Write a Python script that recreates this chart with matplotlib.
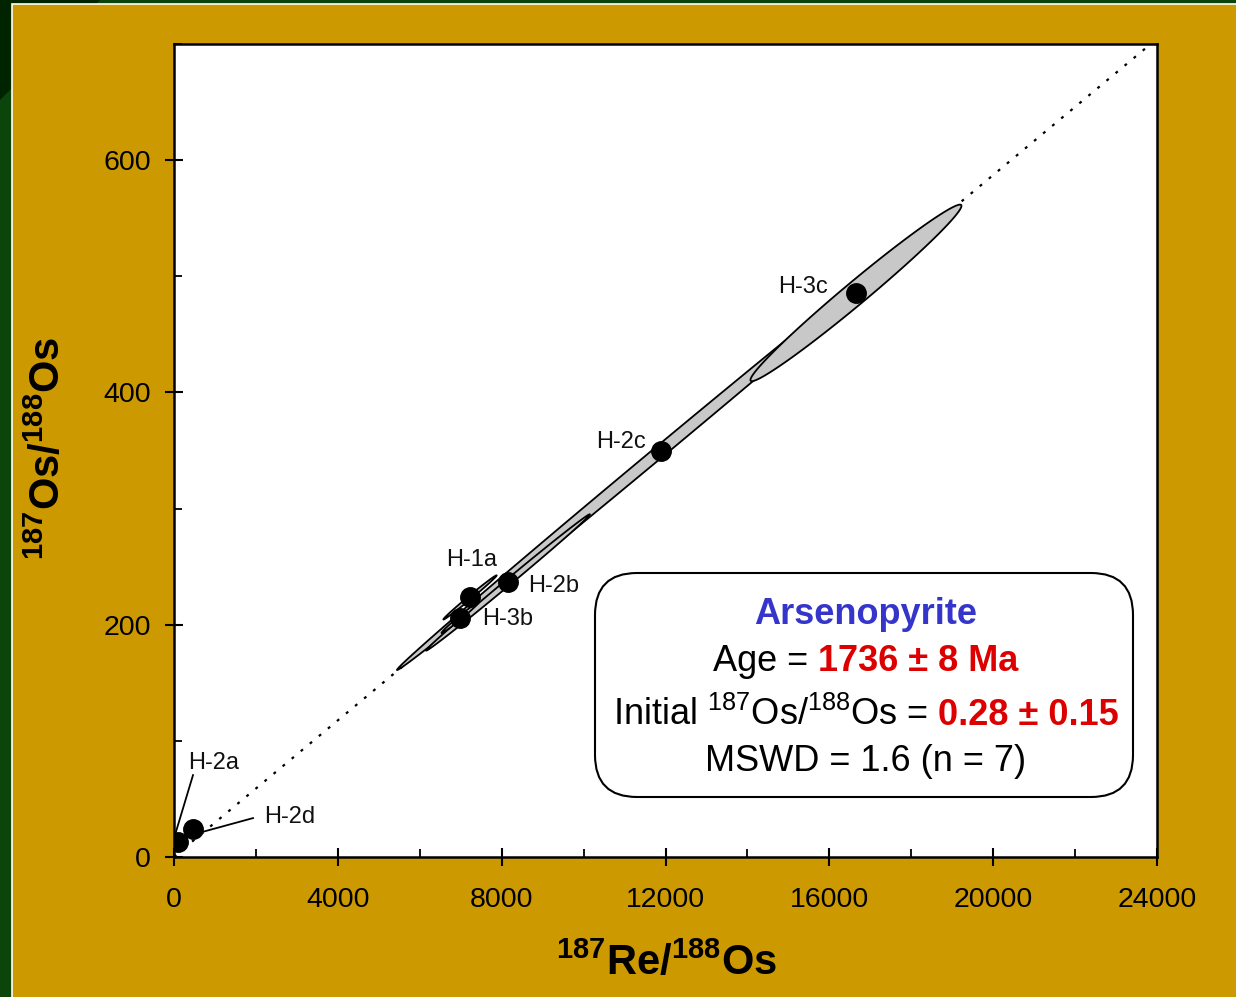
import numpy as np
import matplotlib
matplotlib.use("Agg")
import matplotlib.pyplot as plt
import matplotlib.transforms as mtransforms
from matplotlib.patches import Rectangle, Polygon, FancyBboxPatch

plt.rcParams["font.family"] = ["Liberation Sans", "DejaVu Sans"]
plt.rcParams["mathtext.fontset"] = "custom"
plt.rcParams["mathtext.rm"] = "Liberation Sans"
plt.rcParams["mathtext.it"] = "Liberation Sans:italic"
plt.rcParams["mathtext.bf"] = "Liberation Sans:bold"

# sample data: 187Re/188Os, 187Os/188Os, 2-sigma errors and error correlation
labels = ["H-2a", "H-2d", "H-3b", "H-1a", "H-2b", "H-2c", "H-3c"]
re_os = [98, 464, 6982, 7227, 8154, 11890, 16650]
os_os = [12.9, 24.0, 206.0, 223.5, 236.4, 350.0, 485.7]
err_x = [30, 40, 450, 650, 2000, 6445, 2576]
err_y = [1.0, 1.2, 13.2, 19.0, 58.7, 189.0, 76.0]
rho = [0.9, 0.9, 0.99, 0.995, 0.9983, 0.9994, 0.986]

# label positions (data coords) and leader lines
label_x = [342, 2197, 7520, 6641, 8643, 11523, 14746]
label_y = [80.8, 34.4, 204.6, 255.3, 233.0, 357.6, 490.8]
label_ha = ["left", "left", "left", "left", "left", "right", "left"]
leaders = {"H-2a": ([464, 24], [70.5, 18.9]), "H-2d": ([1929, 684], [33.5, 21.5])}

# isochron result
age_ma = 1736
initial = 0.28
decay = 1.666e-11
slope = np.exp(decay * age_ma * 1e6) - 1

W, H = 1236, 997
fig = plt.figure(figsize=(W / 100, H / 100), dpi=100)
fig.patch.set_facecolor("#0B450B")

# slide background
fig.add_artist(Polygon([(0, 1), (100 / W, 1), (0, 1 - 100 / H)], closed=True,
                       transform=fig.transFigure, fc="#002400", ec="none", zorder=0))
fig.add_artist(Rectangle((12 / W, -0.01), 1.1, (H - 4) / H + 0.01, transform=fig.transFigure,
                         fc="#CC9900", ec="white", lw=1.2, zorder=0))

ax = fig.add_axes([174 / W, 1 - 857 / H, (1157 - 174) / W, (857 - 44) / H])
ax.set_facecolor("white")
ax.set_xlim(0, 24000)
ax.set_ylim(0, 700)

# isochron line
xs = np.array([0, 24000])
ax.plot(xs, initial + slope * xs, color="black", lw=1.6, ls=(0, (1.3, 4.0)), zorder=1)

# error ellipses, biggest first
t = np.linspace(0, 2 * np.pi, 300)
for i in np.argsort(err_x)[::-1]:
    ex = re_os[i] + err_x[i] * np.cos(t)
    ey = os_os[i] + err_y[i] * (rho[i] * np.cos(t) + np.sqrt(1 - rho[i] ** 2) * np.sin(t))
    ax.fill(ex, ey, fc="#C8C8C8", ec="black", lw=1.3, zorder=2)

ax.plot(re_os, os_os, "o", ms=14, color="black", zorder=4)

for lab, lx, ly, ha in zip(labels, label_x, label_y, label_ha):
    ax.text(lx, ly, lab, ha=ha, va="center", fontsize=17,
            family=["Liberation Sans Narrow", "Liberation Sans", "DejaVu Sans"],
            color="#111111", zorder=5)
for lab, (lxs, lys) in leaders.items():
    ax.plot(lxs, lys, color="black", lw=1.3, zorder=5)

# axes styling
ax.set_xticks(np.arange(0, 24001, 4000))
ax.set_xticks(np.arange(0, 24001, 2000), minor=True)
ax.set_yticks(np.arange(0, 601, 200))
ax.set_yticks(np.arange(0, 701, 100), minor=True)
ax.tick_params(which="major", direction="inout", length=13, width=1.5, labelsize=20.5)
ax.tick_params(which="minor", direction="in", length=6, width=1.3)
ax.tick_params(axis="x", which="major", pad=15)
ax.tick_params(axis="y", which="major", pad=10)
for s in ax.spines.values():
    s.set_linewidth(1.8)

fig.text(666 / W, 1 - 963 / H, r"$\mathbf{^{187}Re/^{188}Os}$", fontsize=30,
         ha="center", va="center")
fig.text(48 / W, 1 - 448 / H, r"$\mathbf{^{187}Os/^{188}Os}$", fontsize=30,
         ha="center", va="center", rotation=90)

# result box
pix = mtransforms.IdentityTransform()
fig.add_artist(FancyBboxPatch((595, H - 797), 538, 224, boxstyle="round,pad=0,rounding_size=42",
                              transform=pix, fc="white", ec="black", lw=1.5, zorder=3))

renderer = fig.canvas.get_renderer()
black = dict(color="black")
red = dict(color="#DD0000", weight="bold")
box_lines = [
    (624, [("Arsenopyrite", dict(color="#3535CC", weight="bold"))]),
    (671, [("Age =", black), (f"{age_ma} ± 8 Ma", red)]),
    (725, [(r"Initial $^{187}$Os/$^{188}$Os =", black), (f"{initial:.2f} ± 0.15", red)]),
    (771, [("MSWD = 1.6 (n = 7)", black)]),
]
fs = 26
for base_y, parts in box_lines:
    arts = []
    for s, kw in parts:
        a = fig.text(0, 0, s, fontsize=fs, transform=pix, ha="left", va="baseline", zorder=6, **kw)
        arts.append(a)
    probe = fig.text(0, 0, "M M", fontsize=fs, transform=pix)
    probe2 = fig.text(0, 0, "MM", fontsize=fs, transform=pix)
    space = probe.get_window_extent(renderer).width - probe2.get_window_extent(renderer).width
    probe.remove()
    probe2.remove()
    widths = [a.get_window_extent(renderer).width for a in arts]
    total = sum(widths) + space * (len(arts) - 1)
    x0 = 866 - total / 2
    for a, w in zip(arts, widths):
        a.set_position((x0, H - base_y))
        x0 += w + space

fig.savefig("out.png", dpi=100, facecolor=fig.get_facecolor())
